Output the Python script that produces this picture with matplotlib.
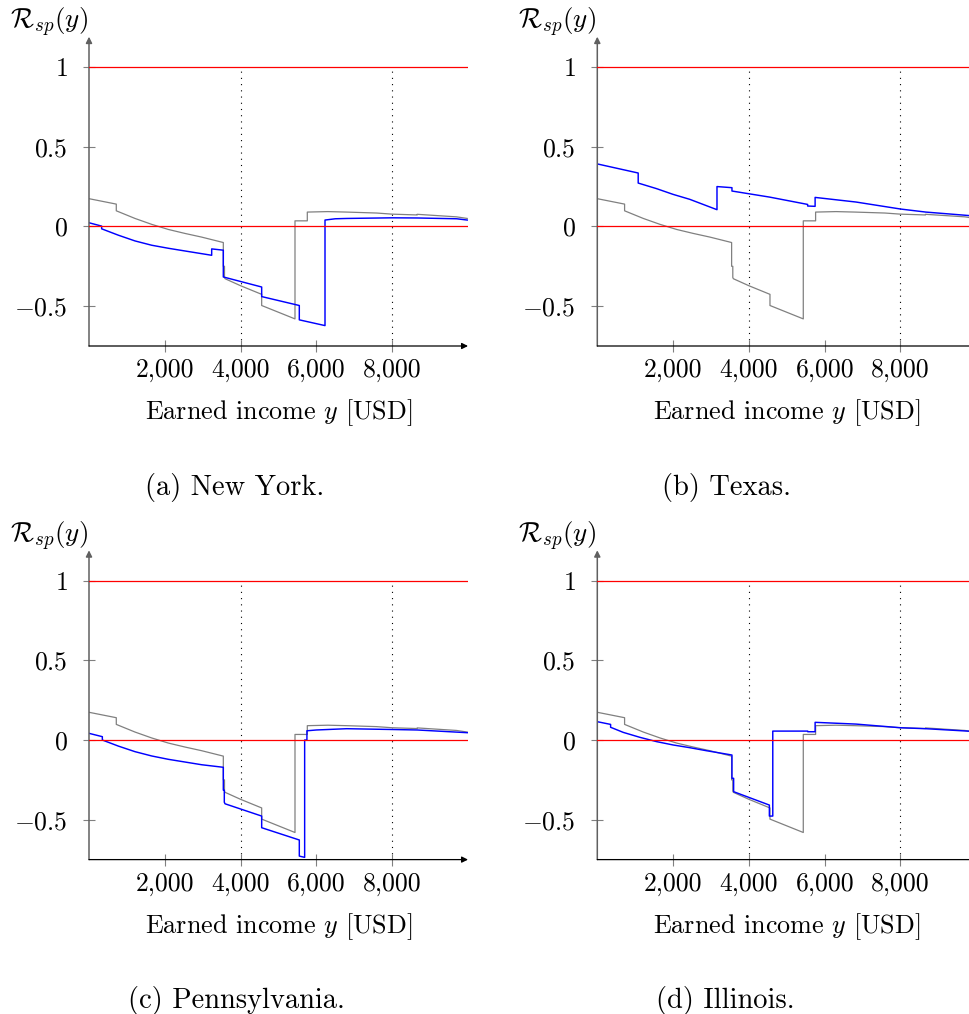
import matplotlib
matplotlib.use("Agg")
import matplotlib.pyplot as plt

plt.rcParams["font.family"] = "serif"
plt.rcParams["font.serif"] = ["cmr10"]
plt.rcParams["mathtext.fontset"] = "cm"
plt.rcParams["axes.formatter.use_mathtext"] = True

W, H = 969, 1014

# reference ratio without state benefits (gray), same in all panels
base_x = [0, 720, 720, 1214, 1654, 2093, 2533, 2973, 3544, 3544, 3575, 3575,
          3590, 4000, 4556, 4556, 5435, 5435, 5760, 5760, 6300, 6800, 7590,
          8000, 8660, 8660, 9700, 9980]
base_y = [0.174, 0.14, 0.098, 0.050, 0.013, -0.019, -0.044, -0.067, -0.101,
          -0.25, -0.25, -0.32, -0.328, -0.372, -0.426, -0.496, -0.58, 0.035,
          0.035, 0.09, 0.093, 0.09, 0.084, 0.077, 0.072, 0.076, 0.06, 0.05]

ny_x = [0, 334, 334, 774, 1214, 1654, 2093, 2533, 3237, 3237, 3544, 3544,
        4556, 4556, 5549, 5549, 6227, 6227, 6500, 6800, 8000, 8660, 9700, 9980]
ny_y = [0.023, 0.002, -0.015, -0.055, -0.091, -0.118, -0.137, -0.154, -0.181,
        -0.141, -0.149, -0.317, -0.38, -0.44, -0.496, -0.586, -0.622, 0.04,
        0.048, 0.05, 0.054, 0.053, 0.048, 0.04]

tx_x = [0, 1079, 1079, 1563, 2000, 2439, 3158, 3158, 3553, 3553, 4545, 5550,
        5550, 5747, 5747, 6826, 8004, 8668, 9765, 9980]
tx_y = [0.392, 0.335, 0.272, 0.237, 0.201, 0.170, 0.105, 0.25, 0.243, 0.222,
        0.184, 0.138, 0.128, 0.126, 0.182, 0.153, 0.109, 0.09, 0.069, 0.065]

pa_x = [0, 352, 352, 774, 1214, 1654, 2093, 2533, 2973, 3544, 3544, 3570,
        3570, 3590, 4556, 4556, 5549, 5549, 5690, 5690, 5750, 5750, 6000,
        6800, 8000, 8660, 9980]
pa_y = [0.042, 0.021, 0.0, -0.038, -0.073, -0.100, -0.121, -0.138, -0.155,
        -0.171, -0.314, -0.314, -0.39, -0.40, -0.477, -0.55, -0.627, -0.728,
        -0.736, 0.0, 0.0, 0.058, 0.063, 0.071, 0.066, 0.063, 0.046]

il_x = [0, 351, 351, 684, 1123, 1563, 2000, 2439, 2879, 3553, 3553, 3597,
        3597, 4540, 4540, 4630, 4630, 5553, 5553, 5747, 5747, 6826, 8004,
        8668, 9765, 9980]
il_y = [0.115, 0.098, 0.080, 0.048, 0.017, -0.010, -0.031, -0.048, -0.067,
        -0.094, -0.24, -0.24, -0.324, -0.408, -0.477, -0.477, 0.056, 0.056,
        0.052, 0.052, 0.111, 0.10, 0.077, 0.071, 0.056, 0.053]

captions = ["(a) New York.", "(b) Texas.", "(c) Pennsylvania.", "(d) Illinois."]
x_ticks = [2000, 4000, 6000, 8000]
x_tick_labels = ["2,000", "4,000", "6,000", "8,000"]
y_ticks = [-0.5, 0, 0.5, 1]
y_tick_labels = [r"$-0.5$", r"$0$", r"$0.5$", r"$1$"]
marks = [4000, 8000]

FS = 18.5

fig = plt.figure(figsize=(W / 100, H / 100), dpi=100)


def px(x, y):
    return x / W, 1 - y / H


def panel(x0, top, bottom, cap_x, sx, sy, caption):
    ax = fig.add_axes([x0 / W, 1 - bottom / H, 379 / W, (bottom - top) / H])
    ax.set_xlim(0, 10000)
    ax.set_ylim(-0.75, 1.19)
    for s in ax.spines.values():
        s.set_visible(False)
    ax.patch.set_visible(False)

    ax.plot(base_x, base_y, color="#808080", lw=0.9, zorder=2)
    ax.plot(sx, sy, color="#0000ff", lw=1.05, zorder=3)
    ax.axhline(0, color="#ff0000", lw=0.9, zorder=4)
    ax.axhline(1, color="#ff0000", lw=0.9, zorder=4)
    ax.vlines(marks, -0.75, 1, colors="black", lw=0.8,
              linestyles=[(0, (1, 4.6))], zorder=1)

    # axis lines with arrow heads
    ax.annotate("", xy=(0, 1), xytext=(0, 0), xycoords="axes fraction",
                arrowprops=dict(arrowstyle="-|>", color="#606060", lw=1.1,
                                mutation_scale=9, shrinkA=0, shrinkB=0))
    ax.annotate("", xy=(1, 0), xytext=(0, 0), xycoords="axes fraction",
                arrowprops=dict(arrowstyle="-|>", color="black", lw=0.9,
                                mutation_scale=9, shrinkA=0, shrinkB=0))

    ax.set_xticks(x_ticks)
    ax.set_xticklabels(x_tick_labels, fontsize=FS)
    ax.set_yticks(y_ticks)
    ax.set_yticklabels(y_tick_labels, fontsize=FS)
    ax.tick_params(axis="both", direction="inout", length=8, width=0.8,
                   color="#808080")
    ax.tick_params(axis="y", pad=11.5)
    ax.tick_params(axis="x", pad=5)

    fig.text(*px(x0 - 40, top - 14), r"$\mathcal{R}_{sp}(y)$", fontsize=19.5,
             ha="center", va="center")
    fig.text(*px(x0 + 189.5, bottom + 67), "Earned income $y$ [USD]",
             fontsize=18.8, ha="center", va="center")
    fig.text(*px(cap_x, bottom + 141), caption, fontsize=20.5,
             ha="center", va="center")


panel(89, 36.7, 346, 235, ny_x, ny_y, captions[0])
panel(597.3, 36.7, 346, 727, tx_x, tx_y, captions[1])
panel(89, 550.3, 859.6, 236, pa_x, pa_y, captions[2])
panel(597.3, 550.3, 859.6, 725, il_x, il_y, captions[3])

fig.savefig("out.png", dpi=100)
